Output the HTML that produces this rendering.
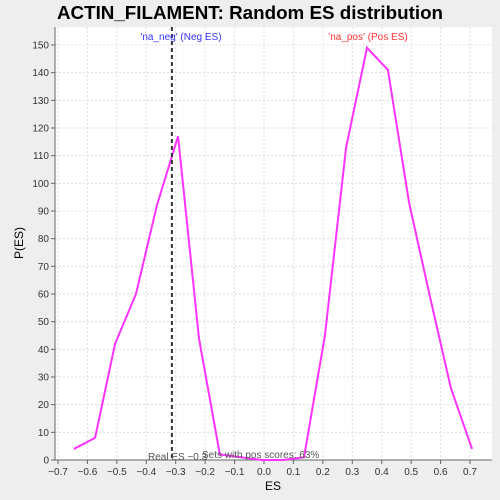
<!DOCTYPE html>
<html><head><style>
html,body{margin:0;padding:0;overflow:hidden;width:500px;height:500px;background:#eeeeee;font-family:"Liberation Sans",sans-serif}
svg{display:block}
svg text{font-family:"Liberation Sans",sans-serif}
</style></head><body>
<svg id="c" width="500" height="500">
<rect x="0" y="0" width="500" height="500" fill="#eeeeee"/>
<text x="250" y="19" text-anchor="middle" font-size="18.8" font-weight="bold">ACTIN_FILAMENT: Random ES distribution</text>
<rect x="55" y="27" width="437" height="433" fill="#ffffff"/>
<g id="grid"></g><g id="axes"></g><g id="marks"></g>
<text x="273" y="490" text-anchor="middle" font-size="12">ES</text>
<text x="23" y="243" text-anchor="middle" font-size="12" transform="rotate(-90 23 243)">P(ES)</text>
</svg>
<script>
const esValues=[-0.646,-0.574,-0.506,-0.435,-0.364,-0.292,-0.221,-0.15,-0.078,-0.007,0.065,0.136,0.207,0.279,0.35,0.421,0.493,0.564,0.635,0.707];
const pValues=[4,8,42,60,92,117,44,2,1,0,0,1,45,113,149,141,93,59,26,4];
const xTicks=[-0.7,-0.6,-0.5,-0.4,-0.3,-0.2,-0.1,0.0,0.1,0.2,0.3,0.4,0.5,0.6,0.7];
const yTicks=[0,10,20,30,40,50,60,70,80,90,100,110,120,130,140,150];
const realES=-0.313;
const X=v=>264+v*294.3, Y=v=>460-v*2.7667;
const NS='http://www.w3.org/2000/svg';
function mk(p,t,a){const e=document.createElementNS(NS,t);for(const k in a)e.setAttribute(k,a[k]);p.appendChild(e);return e;}
const g=document.getElementById('grid'),ax=document.getElementById('axes'),m=document.getElementById('marks');
xTicks.forEach(t=>{const x=X(t);
 const l=mk(g,'line',{x1:x,x2:x,y1:27,y2:460,stroke:'#dddddd','stroke-dasharray':'2,2'});
 
 mk(ax,'line',{x1:x,x2:x,y1:460,y2:464,stroke:'#666'});
 const tx=mk(ax,'text',{x:x,y:475,'text-anchor':'middle','font-size':'10',fill:'#333'});tx.textContent=(t<0?'\u2212':'')+Math.abs(t).toFixed(1);
 });
yTicks.forEach(t=>{const y=Y(t);
 const l=mk(g,'line',{x1:55,x2:492,y1:y,y2:y,stroke:'#dddddd','stroke-dasharray':'2,2'});
 
 mk(ax,'line',{x1:51,x2:55,y1:y,y2:y,stroke:'#666'});
 const tx=mk(ax,'text',{x:49,y:y+3.5,'text-anchor':'end','font-size':'10',fill:'#333'});tx.textContent=t;
 });
const xa=mk(ax,'line',{x1:55,x2:492,y1:460,y2:460,stroke:'#666'});

const ya=mk(ax,'line',{x1:55,x2:55,y1:27,y2:460,stroke:'#666'});

const pl=mk(m,'polyline',{points:esValues.map((v,i)=>X(v)+','+Y(pValues[i])).join(' '),fill:'none',stroke:'#ff33ff','stroke-width':'2'});

const rl=mk(m,'line',{x1:X(realES),x2:X(realES),y1:27,y2:460,stroke:'#333','stroke-width':'2','stroke-dasharray':'4,3'});

function lab(x,y,s,c,n,a){const t=mk(m,'text',{x:x,y:y,'font-size':'10',fill:c,'text-anchor':a||'start'});t.textContent=s;
 }
lab(181,40,"'na_neg' (Neg ES)",'#3333ff','neg-label','middle');
lab(368,40,"'na_pos' (Pos ES)",'#ff3333','pos-label','middle');
lab(148,460,'Real ES \u22120.3','#555','real-es-label');
lab(202,458,'Sets with pos scores: 63%','#555','pos-scores-label');
</script>
</body></html>
